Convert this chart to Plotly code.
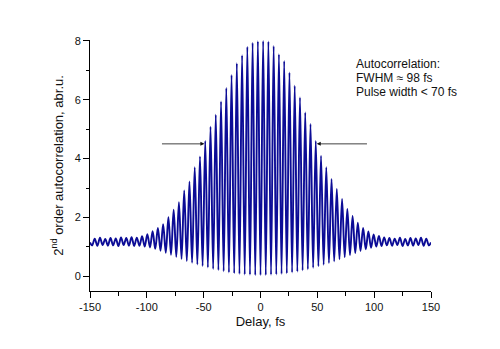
import numpy as np
import plotly.graph_objects as go

# Interferometric autocorrelation trace: fringe maxima and minima (abr.u.)
FRINGE_PERIOD_FS = 4.63

fringe_peaks = [
    1.28, 1.31, 1.27, 1.30, 1.29, 1.32, 1.30, 1.33, 1.31, 1.36,
    1.43, 1.53, 1.64, 1.77, 2.01, 2.26, 2.52, 2.92, 3.22, 3.71,
    4.07, 4.60, 5.08, 5.49, 5.94, 6.40, 6.84, 7.24, 7.51, 7.80,
    7.94, 7.99, 8.00, 7.98, 7.83, 7.55, 7.32, 6.93, 6.48, 6.08,
    5.57, 5.18, 4.60, 4.10, 3.71, 3.31, 2.97, 2.63, 2.29, 2.05,
    1.82, 1.64, 1.52, 1.42, 1.37, 1.32, 1.30, 1.28, 1.31, 1.27,
    1.30, 1.29, 1.31, 1.28,
]

fringe_troughs = [
    1.05, 1.04, 1.06, 1.04, 1.05, 1.03, 1.06, 1.04, 1.03, 1.04,
    1.01, 0.98, 0.93, 0.87, 0.80, 0.73, 0.66, 0.59, 0.52, 0.46,
    0.40, 0.35, 0.30, 0.25, 0.21, 0.17, 0.13, 0.10, 0.08, 0.06,
    0.05, 0.04, 0.04, 0.04, 0.05, 0.06, 0.08, 0.10, 0.13, 0.16,
    0.20, 0.24, 0.29, 0.34, 0.39, 0.45, 0.51, 0.58, 0.65, 0.72,
    0.79, 0.86, 0.92, 0.97, 1.01, 1.03, 1.05, 1.04, 1.06, 1.03,
    1.05, 1.04, 1.06, 1.04, 1.05,
]

edge_delays = [-150.0, 150.0]
edge_values = [1.15, 1.15]

x_tick_vals = [-150, -100, -50, 0, 50, 100, 150]
x_tick_text = ["-150", "-100", "-50", "0", "50", "100", "150"]
y_tick_vals = [0, 2, 4, 6, 8]
y_tick_text = ["0", "2", "4", "6", "8"]

fwhm_marks = [(-49.4, -88.0), (49.5, 95.0)]   # (arrow tip, arrow tail) in fs
fwhm_level = 4.5

# Build the fringe sequence: trough, peak, trough, ... on the fringe grid
n_peaks = len(fringe_peaks)
trough_delays = (np.arange(len(fringe_troughs)) - n_peaks / 2) * FRINGE_PERIOD_FS
peak_delays = (np.arange(n_peaks) - (n_peaks - 1) / 2) * FRINGE_PERIOD_FS

delay = [edge_delays[0]]
signal = [edge_values[0]]
for k in range(n_peaks):
    delay += [trough_delays[k], peak_delays[k]]
    signal += [fringe_troughs[k], fringe_peaks[k]]
delay += [trough_delays[-1], edge_delays[1]]
signal += [fringe_troughs[-1], edge_values[1]]

FONT = "Arial, Liberation Sans, sans-serif"

fig = go.Figure()
fig.add_trace(go.Scatter(
    x=delay, y=signal, mode="lines",
    line=dict(color="#0c0c96", width=1.9, shape="spline", smoothing=1.0),
    hoverinfo="skip", showlegend=False,
))

axis_common = dict(
    showline=True, linecolor="black", linewidth=1,
    showgrid=False, zeroline=False, mirror=False,
    ticks="outside", ticklen=6, tickwidth=1, tickcolor="black",
    tickfont=dict(family=FONT, size=11, color="#111111"),
)

fig.update_xaxes(
    range=[-150, 150], tickmode="array",
    tickvals=x_tick_vals, ticktext=x_tick_text,
    minor=dict(dtick=25, ticks="outside", ticklen=3.5, tickcolor="black", showgrid=False),
    title=dict(text="Delay, fs", font=dict(family=FONT, size=13, color="#111111"), standoff=4),
    **axis_common,
)
fig.update_yaxes(
    range=[-0.5, 8.03], tickmode="array",
    tickvals=y_tick_vals, ticktext=y_tick_text,
    minor=dict(dtick=1, ticks="outside", ticklen=3.5, tickcolor="black", showgrid=False),
    title=dict(text="2<sup>nd</sup> order autocorrelation, abr.u.",
               font=dict(family=FONT, size=13, color="#111111"), standoff=8),
    **axis_common,
)

# FWHM arrows pointing at the half-maximum fringes
for tip, tail in fwhm_marks:
    fig.add_annotation(
        x=tip, y=fwhm_level, ax=tail, ay=fwhm_level,
        xref="x", yref="y", axref="x", ayref="y",
        showarrow=True, arrowhead=2, arrowsize=1.0, arrowwidth=0.8,
        arrowcolor="#111111", standoff=0, text="",
    )

info_lines = ["Autocorrelation:", "FWHM \u2248 98 fs", "Pulse width < 70 fs"]
info_levels = [7.21, 6.74, 6.25]
for txt, lvl in zip(info_lines, info_levels):
    fig.add_annotation(
        x=82, y=lvl, xref="x", yref="y", xanchor="left", yanchor="middle",
        text=txt, showarrow=False,
        font=dict(family=FONT, size=12, color="#111111"),
    )

fig.update_layout(
    width=500, height=349,
    margin=dict(l=90, r=69, t=40, b=58),
    paper_bgcolor="white", plot_bgcolor="white",
    font=dict(family=FONT),
)

fig.write_html("out.html")
